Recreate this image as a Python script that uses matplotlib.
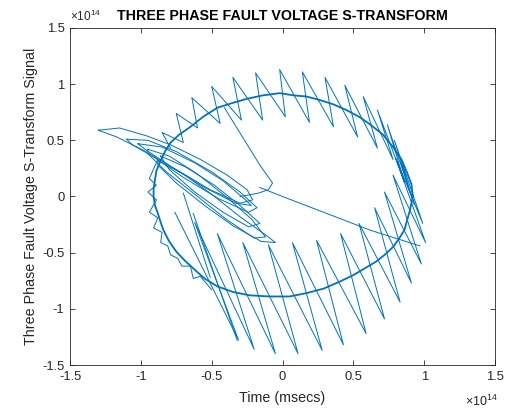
import numpy as np
import matplotlib
matplotlib.use('Agg')
import matplotlib.pyplot as plt

plt.rcParams['font.family'] = ['Liberation Sans', 'DejaVu Sans']
plt.rcParams['mathtext.default'] = 'regular'

# all coordinates are in units of 1e14
scale = 1e14

# main ring of the trajectory
ring_x = [0.92, 0.91, 0.88, 0.84, 0.78, 0.71, 0.62, 0.54, 0.45, 0.36, 0.26, 0.17,
          0.08, -0.02, -0.14, -0.25, -0.36, -0.46, -0.56, -0.65, -0.73, -0.79,
          -0.83, -0.86, -0.89, -0.90, -0.91, -0.91, -0.90, -0.88, -0.86, -0.84,
          -0.80, -0.75, -0.69, -0.63, -0.55, -0.46, -0.35, -0.23, -0.09, 0.05,
          0.17, 0.29, 0.40, 0.50, 0.58, 0.66, 0.72, 0.78, 0.82, 0.86, 0.88,
          0.90, 0.91, 0.92]
ring_y = [0.00, 0.11, 0.21, 0.33, 0.44, 0.55, 0.64, 0.71, 0.77, 0.82, 0.86, 0.89,
          0.90, 0.92, 0.90, 0.87, 0.83, 0.79, 0.71, 0.62, 0.55, 0.48,
          0.40, 0.32, 0.23, 0.15, 0.07, 0.00, -0.08, -0.15, -0.23, -0.30,
          -0.40, -0.49, -0.57, -0.64, -0.73, -0.80, -0.85, -0.88, -0.89, -0.89,
          -0.86, -0.82, -0.76, -0.70, -0.64, -0.58, -0.52, -0.45, -0.38, -0.30, -0.21,
          -0.12, -0.06, 0.00]

# big oscillation tips, bottom -> right -> top
spike_x = [-0.76, -0.31, -0.62, -0.20, -0.46, -0.05, -0.28, 0.11, -0.10, 0.28,
           0.07, 0.43, 0.24, 0.59, 0.41, 0.72, 0.54, 0.83, 0.65, 0.91,
           0.72, 0.98, 0.78, 1.01, 0.80, 0.99, 0.79, 0.93, 0.74, 0.86,
           0.67, 0.78, 0.57, 0.67, 0.44, 0.53, 0.30, 0.36, 0.14, 0.19,
           -0.02, 0.02, -0.19, -0.14, -0.35, -0.29, -0.50, -0.44, -0.64, -0.60,
           -0.75, -0.70, -0.85, -0.79]
spike_y = [-0.14, -1.28, -0.23, -1.36, -0.33, -1.40, -0.41, -1.40, -0.43, -1.37,
           -0.41, -1.32, -0.39, -1.22, -0.33, -1.09, -0.24, -0.94, -0.10, -0.77,
           0.04, -0.60, 0.19, -0.41, 0.34, -0.24, 0.50, -0.07, 0.64, 0.13,
           0.77, 0.33, 0.89, 0.43, 0.99, 0.53, 1.06, 0.62, 1.11, 0.66,
           1.13, 0.71, 1.10, 0.68, 1.06, 0.68, 0.98, 0.65, 0.88, 0.61,
           0.74, 0.48, 0.57, 0.43]

# small teeth on the left side of the ring
teeth_x = [-0.88, -0.94, -0.89, -0.95, -0.89, -0.94, -0.88, -0.91, -0.85, -0.86,
           -0.81, -0.79, -0.74, -0.71, -0.65, -0.63, -0.58, -0.50]
teeth_y = [0.33, 0.16, 0.10, 0.04, -0.03, -0.14, -0.19, -0.28, -0.32, -0.41,
           -0.44, -0.52, -0.55, -0.62, -0.62, -0.73, -0.71, -0.83]

# elongated loops of the fault transient (upper left)
loop_a_x = [-1.30, -1.15, -0.96, -0.79, -0.58, -0.39, -0.25, -0.21, -0.30, -0.51, -0.75, -0.98, -1.17, -1.30]
loop_a_y = [0.59, 0.61, 0.54, 0.46, 0.33, 0.19, 0.06, -0.03, -0.06, 0.06, 0.24, 0.41, 0.53, 0.59]
loop_b_x = [-1.10, -0.95, -0.75, -0.50, -0.30, -0.18, -0.24, -0.45, -0.70, -0.92, -1.06, -1.10]
loop_b_y = [0.51, 0.50, 0.40, 0.22, 0.04, -0.10, -0.14, -0.02, 0.17, 0.36, 0.46, 0.51]
loop_c_x = [-0.95, -0.80, -0.60, -0.40, -0.22, -0.12, -0.20, -0.40, -0.62, -0.82, -0.95, -0.95]
loop_c_y = [0.42, 0.36, 0.20, 0.00, -0.20, -0.36, -0.37, -0.20, 0.02, 0.22, 0.38, 0.42]
loop_d_x = [-0.88, -0.70, -0.50, -0.30, -0.10, -0.05, -0.15, -0.35, -0.55, -0.75, -0.88, -0.88]
loop_d_y = [0.32, 0.20, 0.02, -0.18, -0.36, -0.41, -0.40, -0.26, -0.08, 0.12, 0.28, 0.32]
loop_e_x = [-1.02, -0.85, -0.62, -0.42, -0.27, -0.22, -0.33, -0.55, -0.78, -0.97, -1.02]
loop_e_y = [0.47, 0.44, 0.30, 0.14, -0.02, -0.08, -0.06, 0.08, 0.26, 0.42, 0.47]
loop_f_x = [-0.86, -0.68, -0.48, -0.30, -0.16, -0.24, -0.42, -0.62, -0.80, -0.86]
loop_f_y = [0.36, 0.26, 0.10, -0.08, -0.24, -0.27, -0.14, 0.04, 0.24, 0.36]

# single strokes through the middle
hook_x = [-0.41, -0.16, -0.07, -0.10, -0.17, -0.30]
hook_y = [0.79, 0.28, 0.12, 0.06, 0.03, 0.00]
cline_x = [-0.16, 0.00, 0.62, 0.97]
cline_y = [0.08, 0.00, -0.30, -0.44]
drop_x = [-0.70, -0.51]
drop_y = [0.03, -0.72]
drop2_x = [-0.63, -0.32]
drop2_y = [-0.15, -1.28]

ticks = [-1.5, -1, -0.5, 0, 0.5, 1, 1.5]
tick_labels = ['-1.5', '-1', '-0.5', '0', '0.5', '1', '1.5']

blue = '#0072BD'
grey = '#262626'

fig = plt.figure(figsize=(5.05, 4.11), dpi=100)
ax = fig.add_axes([70 / 505, 46 / 411, 425 / 505, 337 / 411])

pieces = [(loop_a_x, loop_a_y), (loop_b_x, loop_b_y), (loop_c_x, loop_c_y),
          (loop_d_x, loop_d_y), (loop_e_x, loop_e_y), (loop_f_x, loop_f_y),
          (hook_x, hook_y), (cline_x, cline_y),
          (drop_x, drop_y), (drop2_x, drop2_y), (teeth_x, teeth_y),
          (spike_x, spike_y)]
for px, py in pieces:
    ax.plot(np.array(px) * scale, np.array(py) * scale, color=blue, lw=0.7)
ax.plot(np.array(ring_x) * scale, np.array(ring_y) * scale, color=blue, lw=1.3)

ax.set_xlim(-1.5 * scale, 1.5 * scale)
ax.set_ylim(-1.5 * scale, 1.5 * scale)
ax.set_xticks(np.array(ticks) * scale)
ax.set_yticks(np.array(ticks) * scale)
ax.set_xticklabels(tick_labels)
ax.set_yticklabels(tick_labels)
ax.tick_params(direction='in', top=True, right=True, length=3.5, width=0.6,
               labelsize=9.4, colors=grey, pad=4)
for s in ax.spines.values():
    s.set_color(grey)
    s.set_linewidth(0.6)

ax.set_title('THREE PHASE FAULT VOLTAGE S-TRANSFORM', fontsize=10.3,
             fontweight='bold', pad=6)
ax.set_xlabel('Time (msecs)', fontsize=10.3, color=grey, labelpad=6)
ax.set_ylabel('Three Phase Fault Voltage S-Transform Signal', fontsize=10.3,
              color=grey, labelpad=3)

fig.text(70 / 505, 1 - 16 / 411, r'$\times10^{14}$', fontsize=8.5, color=grey,
         ha='left', va='center')
fig.text(498 / 505, 1 - 401 / 411, r'$\times10^{14}$', fontsize=9, color=grey,
         ha='right', va='center')

fig.savefig('out.png', dpi=100)
